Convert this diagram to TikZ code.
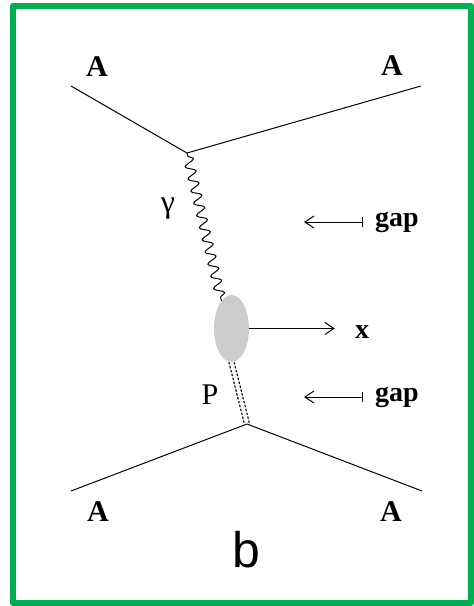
\documentclass[tikz,border=0pt]{standalone}
\usepackage{fontspec}
\setmainfont{Liberation Serif}
\newfontfamily\captionsans{Liberation Sans}
\usetikzlibrary{decorations.pathmorphing,shapes.geometric,arrows.meta}
\definecolor{framegreen}{RGB}{0,176,80}

\begin{document}
\begin{tikzpicture}[
        x=1pt, y=-1pt,
        line join=round,
        % styles
        frame/.style={draw=framegreen,line width=6pt},
        leg/.style={line width=1pt},
        photon/.style={line width=1pt,decorate,
            decoration={snake,segment length=12.5pt,amplitude=5pt,pre length=3pt,post length=2pt}},
        pomeron/.style={line width=1.1pt,dash pattern=on 2.4pt off 1.6pt},
        blob/.style={ellipse,fill=gray!40,minimum width=35pt,minimum height=67pt,inner sep=0pt},
        nucleus/.style={inner sep=0pt,font=\fontsize{30}{30}\selectfont\bfseries},
        tag/.style={inner sep=0pt,font=\fontsize{28}{28}\selectfont\bfseries},
        plain/.style={inner sep=0pt,font=\fontsize{30}{30}\selectfont},
        outarrow/.style={line width=1pt,-{Straight Barb[length=9pt,width=12pt]},shorten >=20pt},
        gaparrow/.style={line width=1pt,{Bar[width=10pt]}-{Straight Barb[length=9pt,width=12pt]},shorten <=12pt},
    ]
    \useasboundingbox (0,0) rectangle (474,606);
    \draw[frame] (13,6) rectangle (471,603);

    % vertices
    \coordinate (vtop) at (187,153);
    \coordinate (vbot) at (247,424);
    \coordinate (tl) at (71,86);
    \coordinate (tr) at (421,86);
    \coordinate (bl) at (71,491);
    \coordinate (br) at (422,491);

    % labels
    \node[nucleus] (Atl) at (97,67) {A};
    \node[nucleus] (Atr) at (392,66) {A};
    \node[nucleus] (Abl) at (98,512) {A};
    \node[nucleus] (Abr) at (391,512) {A};
    \node[plain] (gam) at (168,209) {\fontsize{32}{32}\selectfont γ};
    \node[plain] (pom) at (210,395) {P};
    \node[blob] (blob) at (231.5,328.5) {};
    \node[tag] (xlbl) at (362,332) {x};
    \node[tag,anchor=west] (gap1) at (375,222) {gap};
    \node[tag,anchor=west] (gap2) at (375,397) {gap};
    \node[inner sep=0pt,font=\captionsans\fontsize{50}{50}\selectfont] (cap) at (246,550) {b};

    % nucleus lines
    \draw[leg] (tl) -- (vtop) -- (tr);
    \draw[leg] (bl) -- (vbot) -- (br);

    % exchanges
    \draw[photon] (vtop) -- (blob.110);
    \draw[pomeron] ([xshift=-2.6pt]blob.south) -- ([xshift=-2.6pt]vbot);
    \draw[pomeron] ([xshift=2.6pt]blob.south) -- ([xshift=2.6pt]vbot);

    % arrows
    \coordinate (gapend1) at (304,222);
    \coordinate (gapend2) at (304,397);
    \draw[outarrow] (blob.east) -- (blob.east -| xlbl.west);
    \draw[gaparrow] (gap1.west) -- (gapend1);
    \draw[gaparrow] (gap2.west) -- (gapend2);
\end{tikzpicture}
\end{document}
